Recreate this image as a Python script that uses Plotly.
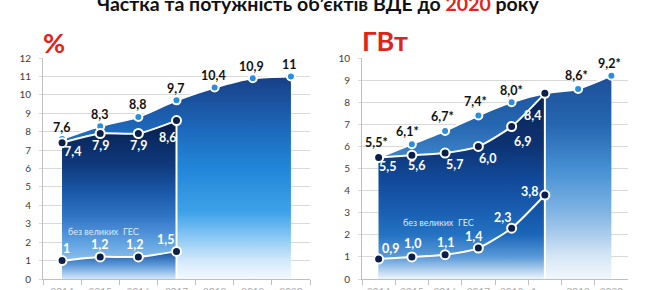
import plotly.graph_objects as go

# ---------------- data ----------------
years_l = ["2014", "2015", "2016", "2017", "2018", "2019", "2020"]
share_total = [7.6, 8.3, 8.8, 9.7, 10.4, 10.9, 11]
share_actual = [7.4, 7.9, 7.9, 8.6]
share_nohydro = [1, 1.2, 1.2, 1.5]

years_r = ["2014", "2015", "2016", "2017", "2018", "1 пол.", "2019", "2020"]
cap_total = [5.5, 6.1, 6.7, 7.4, 8.0, 8.4, 8.6, 9.2]
cap_total_show = [True, True, True, True, True, False, True, True]
cap_actual = [5.5, 5.6, 5.7, 6.0, 6.9, 8.4]
cap_nohydro = [0.9, 1.0, 1.1, 1.4, 2.3, 3.8]

title_text = "Частка та потужність об’єктів ВДЕ до <span style='color:#e2231a'>2020</span> року"
note_text = "без великих  ГЕС"

# ---------------- label offsets (pixels, dx right, dy down) ----------------
off_l_total = [(-1, -12)] * 7
off_l_actual = [(10, 9), (0, 12), (0, 12), (-9, 17)]
off_l_nohydro = [(4, -12), (-1, -12), (-4, -12), (-11, -12)]
off_r_total = [(-2, -15), (-4, -13), (-3, -14), (-3, -14), (0, -12), (0, -12), (-2, -13), (-2, -12)]
off_r_actual = [(9, 9), (5, 10), (9, 11), (9, 12), (11, 15), (-12, 22)]
off_r_nohydro = [(12, -11), (1, -13), (0, -12), (-5, -12), (-9, -11), (-15, -4)]

# ---------------- styles ----------------
FONT = "Lato"
RED = "#e2231a"
NAVY = "#0b1f4d"
LBLUE = "#2a8ee0"
W, H = 650, 290


def px_x(p):
    return p / W


def px_y(p):
    return 1 - p / H


def fmt_g(v):
    return f"{v:g}".replace(".", ",")


def fmt_1(v):
    return f"{v:.1f}".replace(".", ",")


fig = go.Figure()
annotations = []


def add_fill(x, y, xa, ya, stops):
    fig.add_trace(go.Scatter(
        x=x, y=y, xaxis=xa, yaxis=ya, mode="lines",
        line=dict(width=0, shape="spline", smoothing=0.6),
        fill="tozeroy",
        fillgradient=dict(type="vertical", colorscale=stops, start=0, stop=max(y)),
        hoverinfo="skip", showlegend=False))


def add_line(x, y, xa, ya, mcolor, msize=9):
    fig.add_trace(go.Scatter(
        x=x, y=y, xaxis=xa, yaxis=ya, mode="lines+markers",
        line=dict(color="white", width=2, shape="spline", smoothing=0.6),
        marker=dict(color=mcolor, size=msize, line=dict(color="white", width=2)),
        cliponaxis=False, hoverinfo="skip", showlegend=False))


def add_labels(cats, y, texts, offs, xa, ya, color):
    # category position index on the category axis
    for i, (yi, t, (dx, dy)) in enumerate(zip(y, texts, offs)):
        if not t:
            continue
        annotations.append(dict(
            text=t, x=i, y=yi, xref=xa, yref=ya, showarrow=False,
            xanchor="center", yanchor="middle", xshift=dx, yshift=-dy,
            font=dict(family=FONT, size=12.5, color=color, weight="bold")))


# ---------------- left chart ----------------
nl = len(share_actual)
add_fill(years_l, share_total, "x", "y",
         [[0, "#f4f9fe"], [0.09, "#d2e9fa"], [0.2, "#8ecaf3"], [0.33, "#3ea2ea"],
          [0.55, "#2286d8"], [0.72, "#1d6cbf"], [0.86, "#1b55a3"], [1, "#173f86"]])
add_fill(years_l[:nl], share_actual, "x", "y",
         [[0, "#c4def5"], [0.2, "#6aaae4"], [0.3, "#4c8ed6"], [0.4, "#3074c4"],
          [0.55, "#1a58a8"], [0.72, "#10397c"], [0.88, "#0a2a62"], [1, "#061c48"]])
add_fill(years_l[:nl], share_nohydro, "x", "y",
         [[0, "#d4e8f8"], [0.5, "#5e9ad8"], [1, "#1550a0"]])
fig.add_trace(go.Scatter(x=[years_l[nl - 1]] * 2, y=[0, share_actual[-1]], xaxis="x", yaxis="y",
                         mode="lines", line=dict(color="white", width=2),
                         hoverinfo="skip", showlegend=False))
add_line(years_l, share_total, "x", "y", LBLUE, 8)
add_line(years_l[:nl], share_actual, "x", "y", NAVY)
add_line(years_l[:nl], share_nohydro, "x", "y", NAVY)
add_labels(years_l, share_total, [fmt_g(v) for v in share_total], off_l_total, "x", "y", "#111111")
add_labels(years_l, share_actual, [fmt_g(v) for v in share_actual], off_l_actual, "x", "y", "white")
add_labels(years_l, share_nohydro, [fmt_g(v) for v in share_nohydro], off_l_nohydro, "x", "y", "white")

# ---------------- right chart ----------------
nr = len(cap_actual)
add_fill(years_r, cap_total, "x2", "y2",
         [[0, "#f2f7fc"], [0.11, "#d6e7f5"], [0.22, "#aacbec"], [0.33, "#80b4e3"],
          [0.54, "#4690d3"], [0.76, "#2566b0"], [1, "#1d4e98"]])
add_fill(years_r[:nr], cap_actual, "x2", "y2",
         [[0, "#d8e8f6"], [0.12, "#5a9ad6"], [0.24, "#2472c2"], [0.36, "#1a5fb2"],
          [0.54, "#12499a"], [0.72, "#0d3372"], [1, "#0a2254"]])
add_fill(years_r[:nr], cap_nohydro, "x2", "y2",
         [[0, "#eef5fc"], [0.26, "#5a9ad8"], [0.53, "#1a66b8"], [1, "#0e4a9c"]])
fig.add_trace(go.Scatter(x=[years_r[nr - 1]] * 2, y=[0, cap_actual[-1]], xaxis="x2", yaxis="y2",
                         mode="lines", line=dict(color="white", width=2),
                         hoverinfo="skip", showlegend=False))
add_line(years_r, cap_total, "x2", "y2", LBLUE, 8)
add_line(years_r[:nr], cap_actual, "x2", "y2", NAVY)
add_line(years_r[:nr], cap_nohydro, "x2", "y2", NAVY)
add_labels(years_r, cap_total,
           [fmt_1(v) + "*" if s else "" for v, s in zip(cap_total, cap_total_show)],
           off_r_total, "x2", "y2", "#111111")
add_labels(years_r, cap_actual, [fmt_1(v) for v in cap_actual], off_r_actual, "x2", "y2", "white")
add_labels(years_r, cap_nohydro, [fmt_1(v) for v in cap_nohydro], off_r_nohydro, "x2", "y2", "white")

# ---------------- axes ----------------
ydom = [px_y(279), px_y(58)]
common_x = dict(type="category", showgrid=False, showline=True, linecolor="#bfbfbf",
                ticks="outside", ticklen=5, tickcolor="#bfbfbf", tickson="boundaries",
                tickangle=0, automargin=False, ticklabelstandoff=3,
                tickfont=dict(family=FONT, size=10, color="#aaaaaa"), zeroline=False)
common_y = dict(showgrid=True, gridcolor="#d9d9d9", gridwidth=1, showline=True, linecolor="#bfbfbf",
                ticks="outside", ticklen=3, tickcolor="#d9d9d9", dtick=1, zeroline=False,
                automargin=False, ticklabelstandoff=6,
                tickfont=dict(family=FONT, size=10, color="#404040"))

annotations += [
    dict(text=title_text, xref="paper", yref="paper", x=px_x(318), y=px_y(3),
         xanchor="center", yanchor="middle", showarrow=False,
         font=dict(family=FONT, size=19.5, color="#111111", weight="bold")),
    dict(text="%", xref="paper", yref="paper", x=px_x(41), y=px_y(42),
         xanchor="left", yanchor="middle", showarrow=False,
         font=dict(family=FONT, size=27, color=RED, weight="bold")),
    dict(text="ГВт", xref="paper", yref="paper", x=px_x(360), y=px_y(40),
         xanchor="left", yanchor="middle", showarrow=False,
         font=dict(family=FONT, size=27, color=RED, weight="bold")),
    dict(text=note_text, xref="paper", yref="paper", x=px_x(66), y=px_y(231),
         xanchor="left", yanchor="middle", showarrow=False,
         font=dict(family=FONT, size=9, color="#dcebfa")),
    dict(text=note_text, xref="paper", yref="paper", x=px_x(401), y=px_y(222),
         xanchor="left", yanchor="middle", showarrow=False,
         font=dict(family=FONT, size=9, color="#dcebfa")),
]

fig.update_layout(
    width=W, height=H,
    margin=dict(l=0, r=0, t=0, b=0, pad=0, autoexpand=False),
    paper_bgcolor="white", plot_bgcolor="white",
    xaxis=dict(common_x, domain=[px_x(43), px_x(310)], range=[-0.5, len(years_l) - 0.5], anchor="y"),
    yaxis=dict(common_y, domain=ydom, range=[0, 12], anchor="x"),
    xaxis2=dict(common_x, domain=[px_x(362), px_x(628)], range=[-0.5, len(years_r) - 0.5], anchor="y2"),
    yaxis2=dict(common_y, domain=ydom, range=[0, 10], anchor="x2"),
    annotations=annotations,
)

fig.write_html("out.html")
